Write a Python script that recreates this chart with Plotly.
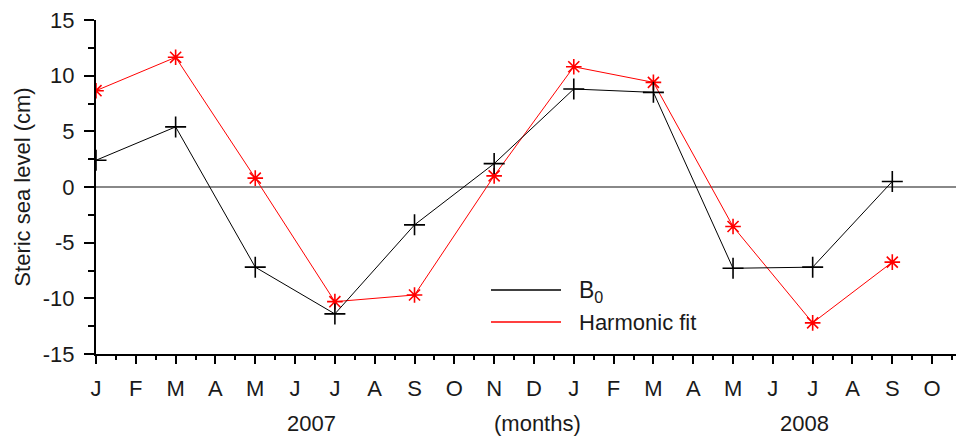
import plotly.graph_objects as go

months = ["J", "F", "M", "A", "M", "J", "J", "A", "S", "O", "N", "D",
          "J", "F", "M", "A", "M", "J", "J", "A", "S", "O"]
month_idx = list(range(len(months)))
obs_idx = [0, 2, 4, 6, 8, 10, 12, 14, 16, 18, 20]
b0 = [2.4, 5.4, -7.2, -11.4, -3.4, 2.1, 8.8, 8.5, -7.3, -7.2, 0.5]
harmonic = [8.65, 11.65, 0.8, -10.3, -9.7, 1.0, 10.8, 9.4, -3.55, -12.2, -6.75]
y_ticks = [-15, -10, -5, 0, 5, 10, 15]
y_labels = ["-15", "-10", "-5", "0", "5", "10", "15"]

FONT = "Liberation Sans, Arial, sans-serif"
TXT = "#1a1a1a"
FS = 22

fig = go.Figure()
fig.add_trace(go.Scatter(
    x=obs_idx, y=harmonic, mode="lines+markers", name="Harmonic fit",
    line=dict(color="#ff0000", width=1),
    marker=dict(symbol="asterisk-open", size=13, color="#ff0000",
                line=dict(color="#ff0000", width=1.6)),
    showlegend=False))
fig.add_trace(go.Scatter(
    x=obs_idx, y=b0, mode="lines+markers", name="B0",
    line=dict(color="#000000", width=1),
    marker=dict(symbol="cross-thin-open", size=15, color="#000000",
                line=dict(color="#000000", width=1.6)),
    showlegend=False))

fig.update_layout(
    width=956, height=444,
    margin=dict(l=96, r=0, t=20, b=90),
    paper_bgcolor="white", plot_bgcolor="white",
    font=dict(family=FONT, size=FS, color=TXT),
    xaxis=dict(
        range=[0, 21.6], showgrid=False, zeroline=False,
        showline=True, linecolor="black", linewidth=2,
        tickmode="array", tickvals=month_idx, ticktext=months,
        ticks="outside", ticklen=8, tickwidth=2, tickcolor="black",
        ticklabelstandoff=6,
        tickfont=dict(size=FS, family=FONT, color=TXT),
        minor=dict(tickmode="linear", tick0=0.5, dtick=1, ticks="outside",
                   ticklen=4, tickwidth=2, tickcolor="black"),
    ),
    yaxis=dict(
        range=[-15, 15], showgrid=False,
        zeroline=True, zerolinecolor="#888888", zerolinewidth=1.5,
        showline=True, linecolor="black", linewidth=2,
        tickmode="array", tickvals=y_ticks, ticktext=y_labels,
        ticks="outside", ticklen=10, tickwidth=2, tickcolor="black",
        ticklabelstandoff=5,
        tickfont=dict(size=FS, family=FONT, color=TXT),
        minor=dict(tickmode="linear", tick0=-12.5, dtick=5, ticks="outside",
                   ticklen=6, tickwidth=2, tickcolor="black"),
        title=dict(text="Steric sea level (cm)", font=dict(size=FS, family=FONT, color=TXT),
                   standoff=6),
    ),
)

# legend drawn manually
fig.add_shape(type="line", xref="paper", yref="paper",
              x0=(491 - 96) / 860, x1=(561 - 96) / 860,
              y0=(354 - 290) / 334, y1=(354 - 290) / 334,
              line=dict(color="black", width=1.5))
fig.add_shape(type="line", xref="paper", yref="paper",
              x0=(491 - 96) / 860, x1=(561 - 96) / 860,
              y0=(354 - 322) / 334, y1=(354 - 322) / 334,
              line=dict(color="#ff0000", width=1.5))
fig.add_annotation(text="B<sub>0</sub>", xref="paper", yref="paper",
                   x=(577 - 96) / 860, y=(354 - 291) / 334, xanchor="left", yanchor="middle",
                   showarrow=False, font=dict(size=FS + 1, family=FONT, color=TXT))
fig.add_annotation(text="Harmonic fit", xref="paper", yref="paper",
                   x=(577 - 96) / 860, y=(354 - 322) / 334, xanchor="left", yanchor="middle",
                   showarrow=False, font=dict(size=FS, family=FONT, color=TXT))

# year / unit labels under axis
for txt, xv in [("2007", 5.4), ("(months)", 11.1), ("2008", 17.8)]:
    fig.add_annotation(text=txt, xref="x", yref="paper", x=xv, y=(354 - 423) / 334,
                       xanchor="center", yanchor="middle", showarrow=False,
                       font=dict(size=FS, family=FONT, color=TXT))

fig.write_html("out.html")
